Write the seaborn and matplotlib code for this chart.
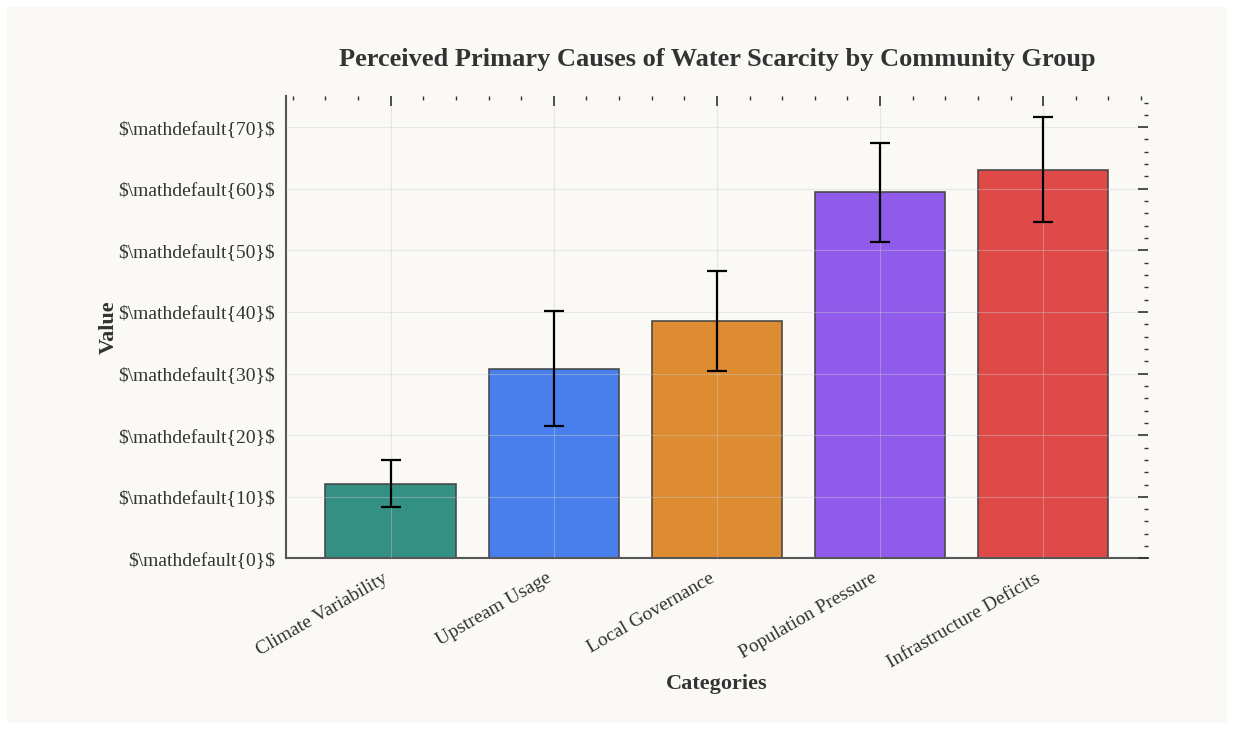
import seaborn as sns
import matplotlib.pyplot as plt
import pandas as pd
from matplotlib.ticker import AutoMinorLocator

# Данные
categories = ['Climate Variability', 'Upstream Usage', 'Local Governance',
              'Population Pressure', 'Infrastructure Deficits']
values = [12.1, 30.8, 38.6, 59.4, 63.1]
errors = [3.8, 9.3, 8.1, 8.0, 8.5]
colors = ['#2a8a7e', '#3f78ec', '#dc8626', '#8a52ea', '#de4040']
yticks = [0, 10, 20, 30, 40, 50, 60, 70]

df = pd.DataFrame({'category': categories, 'value': values})

sns.set_style('white')
plt.rcParams['font.family'] = ['Liberation Serif', 'DejaVu Serif']

fig, ax = plt.subplots(figsize=(12.34, 7.3), dpi=100)
fig.patch.set_facecolor('#faf9f6')
fig.patch.set_edgecolor('white')
fig.patch.set_linewidth(10)
ax.set_facecolor('#faf9f6')

sns.barplot(data=df, x='category', y='value', hue='category', palette=colors,
            saturation=1, width=0.8, edgecolor='#444444', linewidth=1.2,
            alpha=0.95, legend=False, ax=ax)
ax.errorbar(range(len(categories)), values, yerr=errors, fmt='none',
            ecolor='black', elinewidth=1.6, capsize=7, capthick=1.6, zorder=5)

ax.set_xlim(-0.64, 4.64)
ax.set_ylim(0, 75)
ax.set_yticks(yticks)
ax.set_yticklabels([r'\$\mathdefault{%d}\$' % t for t in yticks])
plt.setp(ax.get_xticklabels(), rotation=30, ha='right')

ax.xaxis.set_minor_locator(AutoMinorLocator(5))
ax.yaxis.set_minor_locator(AutoMinorLocator(5))
ax.tick_params(which='both', direction='in', top=True, right=True,
               labelsize=14, colors='#333333', pad=8)
ax.tick_params(which='major', length=7, width=1.2)
ax.tick_params(which='minor', length=3, width=1)

for s in ['top', 'right']:
    ax.spines[s].set_visible(False)
for s in ['left', 'bottom']:
    ax.spines[s].set_color('#555555')
    ax.spines[s].set_linewidth(1.5)

ax.grid(True, color='#cccccc', alpha=0.4, linewidth=0.8)
ax.set_axisbelow(False)

ax.set_title('Perceived Primary Causes of Water Scarcity by Community Group',
             fontsize=19, fontweight='bold', color='#333333', pad=22)
ax.set_xlabel('Categories', fontsize=16, fontweight='bold', color='#333333',
              labelpad=2)
ax.set_ylabel('Value', fontsize=16, fontweight='bold', color='#333333',
              labelpad=0)

plt.subplots_adjust(left=0.232, right=0.93, top=0.868, bottom=0.235)
plt.savefig('out.png', dpi=100, facecolor=fig.get_facecolor(),
            edgecolor='white')
